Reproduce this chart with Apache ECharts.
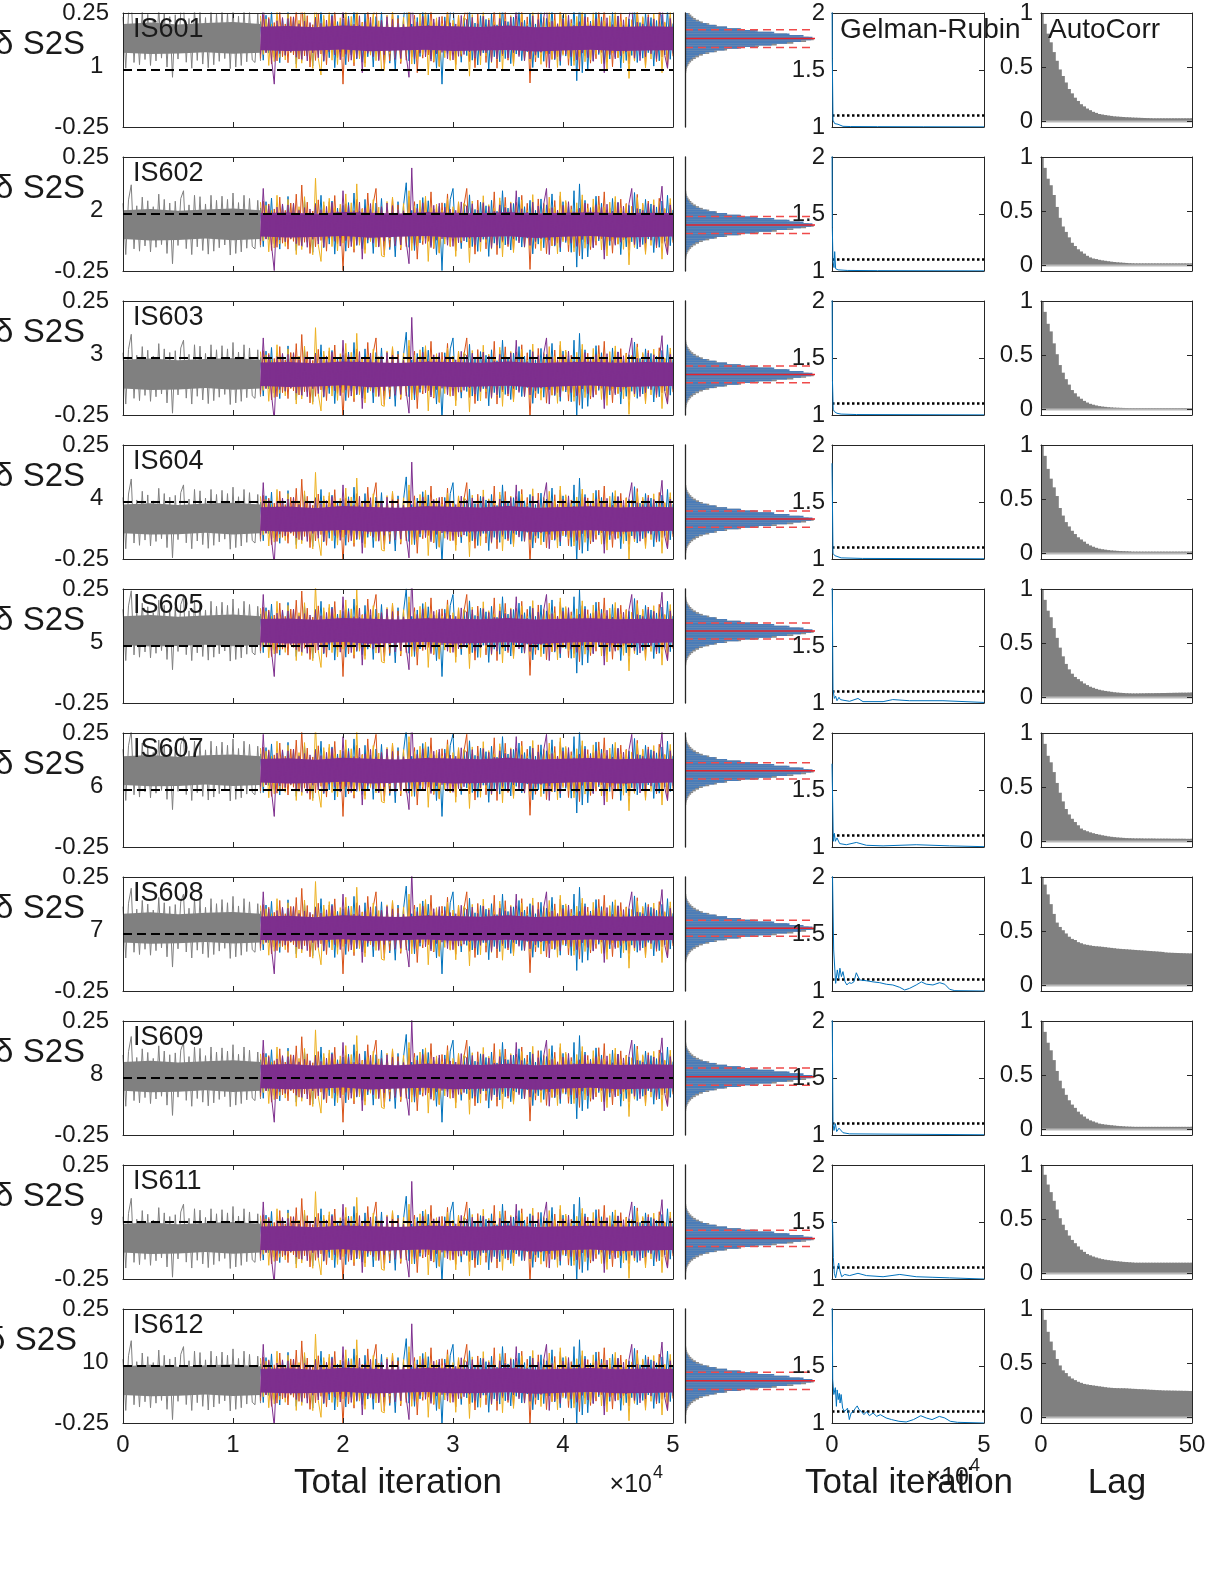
<!DOCTYPE html>
<html><head><meta charset="utf-8">
<script src="https://cdn.jsdelivr.net/npm/echarts@6/dist/echarts.min.js"></script>
<style>html,body{margin:0;padding:0;background:#fff}#c{width:1224px;height:1584px}</style>
</head><body><div id="c"></div>
<script>
// ---------------- DATA ----------------
const stationNames = ['IS601','IS602','IS603','IS604','IS605','IS607','IS608','IS609','IS611','IS612'];
const rowIndexLabels = ['1','2','3','4','5','6','7','8','9','10'];
// posterior mean and std of each δS2S term (red solid / dashed lines)
const rowMeans = [0.138,-0.048,-0.072,-0.075,0.066,0.084,0.025,0.006,-0.072,-0.065];
const rowStd   = [0.039,0.037,0.037,0.036,0.035,0.036,0.035,0.038,0.036,0.038];
const burnInEnd = 12500, totalIter = 50000, sampleStep = 250;
const traceTicks = [0,10000,20000,30000,40000,50000];

// chain deviations from the row mean, in units of 1e-3 (same pattern in every row)
const greyDev = [95,-130,110,176,-105,84,-115,122,-92,106,
 -118,80,-98,135,-86,112,-125,96,-170,104,
 -90,116,150,-104,88,-130,130,-96,124,-112,
 92,-128,130,-115,108,-100,126,-88,112,-132,
 140,-125,98,-118,130,-102,116,-94,-105,108,
 -98];
const blueDev = [75,-95,102,-64,118,-82,58,-106,88,-72,
 125,-60,80,-112,68,-96,110,-76,55,-120,
 94,-70,130,-100,62,-84,105,-128,74,-58,
 86,-115,98,-72,140,-90,60,-104,112,-80,
 70,-125,96,-62,116,-94,78,-108,57,-140,
 102,-71,85,185,-98,64,-112,92,-79,120,
 -60,106,-90,70,-130,82,-200,95,-66,112,
 160,-86,58,-104,90,-75,132,-95,68,-116,
 100,-63,84,-138,108,-80,60,-102,150,-88,
 74,-110,94,-68,122,-97,80,-58,108,-127,
 64,-84,114,-100,88,-67,136,-93,62,-118,
 102,-77,82,-120,150,-185,180,-150,108,-140,
 76,-98,126,-70,95,-110,66,-90,116,-82,
 98,-130,60,-96,86,-74,142,-105,70,-86,
 112,-62,92,-121,79,-98,105,-72,130,-91,
 66];
const orangeDev = [-88,104,-62,92,-112,70,-98,122,-80,64,
 -106,96,-72,135,-90,175,-76,100,-125,61,
 -96,110,-68,86,-115,102,-60,129,-84,74,
 -200,93,-101,63,-120,112,-82,72,-108,140,
 -64,95,160,-92,80,-132,66,-98,117,-74,
 88,-110,60,-95,125,-80,102,-150,70,-86,
 112,-72,145,-104,78,-121,97,-62,136,-93,
 68,-114,100,-78,87,160,-101,74,-128,109,
 -66,92,-105,82,-88,145,-130,106,-76,121,
 -95,64,-112,99,-70,130,-86,95,-195,78,
 -103,114,-63,90,-126,72,-91,107,-80,128,
 -67,98,-117,84,-99,70,-135,111,-75,93,
 -108,80,-89,127,-61,145,-102,73,-124,101,
 -83,113,-66,94,-111,78,-97,134,-74,89,
 -120,105,-60,87,-101,117,-81,69,-130,97,
 -78];
const yellowDev = [100,-70,86,-118,64,-101,130,-83,72,-94,
 112,-63,95,-130,80,-108,124,-75,61,-131,
 205,-86,-160,102,-67,117,-95,76,-114,91,
 -80,136,-62,97,-105,180,-89,70,-125,86,
 -73,111,-97,78,-135,-140,103,-66,122,-85,
 68,-102,94,-76,150,-112,84,-92,108,-71,
 126,-160,75,-99,91,-124,66,-84,115,-96,
 80,-138,102,-69,96,78,-165,105,-81,68,
 -116,128,-77,89,-106,73,-93,119,-140,83,
 -64,101,-121,86,-72,110,-98,63,-103,133,
 -82,76,-113,95,-66,122,-91,79,-127,145,
 -74,107,-87,68,-118,97,-80,132,-102,72,
 -94,114,-69,88,-110,77,-136,100,-64,125,
 -85,74,-107,91,-175,83,-99,120,-71,96,
 -129,81,-90,111,-76,103,-150,73,-96,116,
 -68];
const purpleDev = [-70,160,-62,85,-90,-200,78,-66,92,-74,
 88,-60,95,-82,64,-91,76,-98,70,-63,
 90,-84,67,-96,81,-58,99,-72,61,-93,
 150,-69,87,-95,63,-86,100,-150,74,-65,
 94,-80,60,-97,79,-71,96,-57,85,-92,
 68,-88,62,-76,-170,250,-90,73,-64,97,
 -81,58,-99,86,-67,95,-61,78,-89,69,
 -94,64,-78,101,-70,84,-59,93,-86,66,
 -75,98,-63,81,-102,60,-90,88,-68,77,
 -85,95,-62,150,-79,71,-97,56,-90,100,
 -73,83,-60,92,160,-130,76,-88,65,-99,
 86,-69,102,-80,58,-94,74,-64,96,-84,
 67,-100,87,-62,78,-150,91,-71,61,-89,
 99,-76,82,-58,93,160,-86,72,-97,64,
 -80,94,-67,86,-90,60,170,-74,-130,88,
 -66];
// solid cores of the burn-in (grey) and post burn-in (purple) bands, 1e-3 units
const greyBandIter = [0,2500,5000,7500,10000,12500];
const greyBandHi = [64,70,62,68,72,64];
const greyBandLo = [-62,-68,-66,-60,-67,-62];
const purpleBandIter = [12500,15000,17500,20000,22500,25000,27500,30000,32500,35000,37500,40000,42500,45000,47500,50000];
const purpleBandHi = [52,55,49,57,53,50,56,54,51,57,50,53,56,51,54,52];
const purpleBandLo = [-51,-55,-53,-48,-56,-52,-49,-55,-53,-50,-57,-52,-49,-55,-53,-51];

// histograms (fraction of peak), bins relative to row mean, from low to high
const histBinWidth = 0.0075, histFirstEdge = -0.15;
const histPost = [0.005,0.007,0.008,0.011,0.016,0.022,0.03,0.042,0.058,0.08,0.11,0.16,0.23,0.31,0.42,0.55,0.68,0.80,0.91,0.99,
 1.0,0.93,0.82,0.70,0.57,0.44,0.33,0.24,0.17,0.12,0.085,0.06,0.045,0.032,0.024,0.017,0.012,0.009,0.007,0.005];
const histAll = [0.01,0.012,0.015,0.02,0.027,0.036,0.048,0.064,0.085,0.11,0.14,0.19,0.25,0.33,0.44,0.58,0.72,0.85,0.95,1.01,
 0.97,0.9,0.8,0.68,0.55,0.43,0.33,0.25,0.19,0.14,0.11,0.085,0.065,0.05,0.038,0.028,0.02,0.015,0.012,0.01];

// Gelman-Rubin statistic, [iteration (x1e4), R]
const gelmanRubin = [
 [[0,2.3],[0.01,1.6],[0.033,1.06],[0.088,1.03],[0.143,1.045],[0.197,1.024],[0.252,1.035],[0.36,1.006],[0.6,1.004],[1.5,1.003],[3,1.002],[5,1.001]],
 [[0,2.3],[0.01,1.38],[0.033,1.08],[0.066,1.03],[0.088,1.17],[0.12,1.02],[0.2,1.01],[0.5,1.005],[1.5,1.003],[5,1.001]],
 [[0,2.3],[0.015,1.3],[0.04,1.05],[0.077,1.03],[0.11,1.04],[0.164,1.015],[0.3,1.008],[0.8,1.004],[5,1.001]],
 [[0,1.84],[0.033,1.05],[0.088,1.03],[0.143,1.02],[0.3,1.01],[1,1.005],[5,1.002]],
 [[0,2.3],[0.033,1.12],[0.077,1.04],[0.12,1.06],[0.164,1.02],[0.23,1.05],[0.274,1.03],[0.36,1.025],[0.58,1.015],[0.855,1.04],[1.02,1.012],[1.68,1.012],[2.0,1.03],[2.55,1.02],[3.65,1.02],[5,1.005]],
 [[0,1.73],[0.044,1.05],[0.077,1.12],[0.11,1.05],[0.164,1.08],[0.252,1.03],[0.47,1.02],[0.8,1.04],[1.13,1.015],[1.68,1.01],[2.77,1.02],[3.87,1.01],[5,1.003]],
 [[0,2.3],[0.055,1.36],[0.12,1.067],[0.175,1.185],[0.22,1.11],[0.26,1.2],[0.31,1.126],[0.36,1.17],[0.43,1.08],[0.49,1.053],[0.56,1.073],[0.64,1.067],[0.72,1.08],[0.8,1.16],[0.91,1.097],[1.13,1.09],[1.35,1.08],[1.57,1.073],[1.79,1.059],[2.0,1.053],[2.23,1.032],[2.39,1.009],[2.55,1.023],[2.77,1.053],[2.94,1.08],[3.1,1.06],[3.32,1.053],[3.54,1.073],[3.71,1.059],[3.87,1.015],[4.04,1.003],[5,1.0]],
 [[0,2.3],[0.033,1.1],[0.066,1.04],[0.11,1.1],[0.154,1.03],[0.23,1.06],[0.362,1.02],[0.58,1.01],[5,1.002]],
 [[0,1.52],[0.022,1.47],[0.044,1.19],[0.077,1.05],[0.12,1.01],[0.175,1.09],[0.219,1.14],[0.263,1.07],[0.318,1.02],[0.417,1.04],[0.58,1.03],[0.855,1.05],[1.13,1.03],[1.68,1.02],[2.23,1.04],[2.77,1.02],[3.32,1.015],[3.87,1.01],[5,1.0]],
 [[0,2.3],[0.024,1.38],[0.06,1.25],[0.11,1.31],[0.145,1.146],[0.17,1.29],[0.205,1.205],[0.24,1.26],[0.265,1.175],[0.3,1.25],[0.35,1.13],[0.41,1.10],[0.47,1.088],[0.51,1.13],[0.57,1.03],[0.63,1.088],[0.7,1.10],[0.77,1.13],[0.83,1.15],[0.89,1.117],[0.97,1.10],[1.05,1.073],[1.14,1.10],[1.23,1.064],[1.35,1.088],[1.47,1.058],[1.59,1.073],[1.78,1.044],[1.96,1.03],[2.2,1.015],[2.44,1.009],[2.68,1.03],[2.92,1.064],[3.1,1.044],[3.29,1.03],[3.53,1.058],[3.71,1.044],[3.89,1.015],[4.13,1.006],[5,1.0]]
];
const grThreshold = 1.1;

// autocorrelation, lags 0..50
const acf = [
 [1,.9,.81,.73,.64,.56,.48,.42,.36,.30,.26,.22,.19,.16,.14,.12,.105,.09,.08,.07,.065,.06,.056,.052,.048,.046,.044,.042,.04,.039,.037,.036,.035,.034,.033,.032,.031,.03,.03,.03,.03,.03,.03,.03,.03,.03,.03,.03,.03,.03,.03],
 [1,.9,.8,.74,.65,.54,.44,.36,.31,.26,.21,.18,.15,.13,.11,.09,.075,.065,.06,.053,.048,.044,.04,.036,.033,.03,.028,.026,.024,.022,.021,.02,.02,.02,.02,.02,.02,.02,.02,.02,.02,.02,.02,.02,.02,.02,.02,.02,.02,.02,.02],
 [1,.9,.79,.72,.61,.51,.41,.34,.28,.23,.18,.15,.12,.10,.08,.065,.053,.045,.038,.032,.028,.025,.022,.02,.018,.017,.016,.015,.014,.013,.013,.013,.013,.013,.013,.013,.013,.013,.013,.013,.013,.013,.013,.013,.013,.013,.013,.013,.013,.013,.013],
 [1,.9,.78,.69,.61,.53,.42,.35,.29,.25,.21,.18,.15,.13,.11,.09,.075,.063,.053,.045,.04,.036,.032,.029,.027,.025,.023,.022,.021,.02,.018,.018,.018,.018,.018,.018,.018,.018,.018,.018,.018,.018,.018,.018,.018,.018,.018,.018,.018,.018,.018],
 [1,.9,.8,.74,.64,.55,.46,.38,.31,.26,.22,.19,.17,.15,.13,.115,.10,.09,.08,.072,.066,.061,.057,.053,.049,.046,.044,.042,.04,.039,.038,.038,.038,.039,.039,.04,.04,.04,.041,.041,.042,.042,.043,.043,.044,.044,.045,.045,.045,.046,.046],
 [1,.9,.79,.73,.64,.54,.45,.37,.30,.25,.21,.18,.15,.12,.105,.095,.085,.077,.07,.064,.058,.053,.048,.044,.041,.038,.036,.034,.032,.031,.03,.029,.029,.029,.028,.028,.028,.028,.027,.027,.027,.027,.027,.026,.026,.026,.026,.026,.025,.025,.025],
 [1,.93,.84,.75,.66,.58,.54,.51,.48,.45,.43,.42,.40,.39,.38,.375,.37,.365,.362,.36,.357,.354,.35,.347,.344,.34,.338,.336,.334,.332,.33,.328,.326,.324,.322,.32,.318,.316,.314,.312,.31,.305,.303,.302,.301,.30,.299,.298,.297,.296,.295],
 [1,.9,.8,.73,.64,.54,.45,.38,.32,.27,.23,.2,.165,.14,.12,.1,.085,.075,.065,.055,.05,.046,.043,.04,.037,.034,.032,.03,.028,.027,.026,.025,.025,.025,.025,.025,.025,.025,.025,.025,.025,.025,.025,.025,.025,.025,.025,.025,.025,.025,.025],
 [1,.91,.82,.75,.67,.59,.51,.45,.4,.35,.31,.28,.25,.22,.2,.18,.168,.157,.148,.14,.133,.128,.124,.12,.117,.114,.111,.108,.106,.104,.102,.1,.1,.1,.1,.1,.1,.1,.1,.1,.1,.1,.1,.1,.1,.1,.1,.1,.1,.1,.1],
 [1,.9,.79,.7,.62,.54,.48,.435,.41,.38,.36,.345,.33,.32,.31,.305,.3,.296,.292,.288,.284,.28,.276,.274,.272,.271,.27,.27,.269,.267,.265,.264,.262,.261,.26,.258,.256,.255,.253,.252,.25,.249,.249,.248,.248,.247,.247,.246,.246,.245,.245]
];

// ---------------- LAYOUT / STYLE ----------------
const FONT = '"Liberation Sans", Arial, Helvetica, sans-serif';
const AX = '#262626', TXT = '#1a1a1a';
const C = {blue:'#0072BD', orange:'#D95319', yellow:'#EDB120', purple:'#7E2F8E', grey:'#808080'};
const ROW_TOP0 = 13, ROW_STEP = 144, ROW_H = 114;
const COLS = {trace:[123,550], hist:[685,130], gr:[832,152], ac:[1041,151]};

const grids = [], xAxes = [], yAxes = [], series = [], graphics = [];

function axis(grid, position, min, max, o) {
  const a = {type:'value', gridIndex:grid, position, min, max, z:6,
    axisLine:{show:true, onZero:false, lineStyle:{color:AX, width:1}},
    axisTick:{show:false}, axisLabel:{show:false}, splitLine:{show:false}, splitArea:{show:false}};
  return Object.assign(a, o || {});
}
function ticks(vals) { return {show:true, inside:true, length:5, lineStyle:{color:AX, width:1}, customValues:vals}; }
function labels(vals, margin, fmt) {
  return {show:true, customValues:vals, margin, fontSize:24, fontFamily:FONT, color:TXT, formatter:fmt || (v => String(v))};
}
function txt(x, y, text, size, align, vAlign, z) {
  graphics.push({type:'text', x, y, z: z || 50, silent:true,
    style:{text, fontSize:size, fontFamily:FONT, fill:TXT, align, textAlign:align, verticalAlign:vAlign||'middle', textVerticalAlign:vAlign||'middle'}});
}

for (let r = 0; r < 10; r++) {
  const top = ROW_TOP0 + ROW_STEP * r;
  const last = r === 9;
  const g0 = grids.length;
  for (const k of ['trace','hist','gr','ac']) grids.push({left:COLS[k][0], width:COLS[k][1], top, height:ROW_H, containLabel:false});
  const xb = 7 * r, yb = 7 * r;
  // x axes
  xAxes.push(axis(g0, 'bottom', 0, totalIter, {axisTick:ticks([10000,20000,30000,40000]),
    axisLabel: last ? labels(traceTicks, 10, v => String(v / 10000)) : {show:false}}));
  xAxes.push(axis(g0, 'top', 0, totalIter, {axisTick:ticks([10000,20000,30000,40000])}));
  xAxes.push(axis(g0 + 1, 'bottom', 0, 1.02, {axisLine:{show:false}}));
  xAxes.push(axis(g0 + 2, 'bottom', 0, 5, {axisLabel: last ? labels([0,5], 10) : {show:false}}));
  xAxes.push(axis(g0 + 2, 'top', 0, 5));
  xAxes.push(axis(g0 + 3, 'bottom', 0, 50, {axisLabel: last ? labels([0,50], 10) : {show:false}}));
  xAxes.push(axis(g0 + 3, 'top', 0, 50));
  // y axes
  yAxes.push(axis(g0, 'left', -0.25, 0.25, {axisLabel:labels([-0.25,0.25], 14)}));
  yAxes.push(axis(g0, 'right', -0.25, 0.25));
  yAxes.push(axis(g0 + 1, 'left', -0.25, 0.25, {axisLine:{show:true, onZero:false, lineStyle:{color:AX, width:1.3}}}));
  yAxes.push(axis(g0 + 2, 'left', 1, 2, {z:12, axisTick:ticks([1.5]), axisLabel:labels([1,1.5,2], 7)}));
  yAxes.push(axis(g0 + 2, 'right', 1, 2, {axisTick:ticks([1.5])}));
  yAxes.push(axis(g0 + 3, 'left', -0.05, 1, {z:12, axisTick:ticks([0,0.5]), axisLabel:labels([0,0.5,1], 8)}));
  yAxes.push(axis(g0 + 3, 'right', -0.05, 1, {axisTick:ticks([0,0.5])}));

  const m = rowMeans[r], s = rowStd[r];
  const tr = {xAxisIndex:xb, yAxisIndex:yb};
  const band = (iters, hi, lo, color, z) => Object.assign({type:'custom', z, silent:true, clip:true,
    data:[[iters[0], m]],
    renderItem(params, api) {
      const pts = [];
      for (let k = 0; k < iters.length; k++) pts.push(api.coord([iters[k], m + hi[k] / 1000]));
      for (let k = iters.length - 1; k >= 0; k--) pts.push(api.coord([iters[k], m + lo[k] / 1000]));
      return {type:'polygon', shape:{points:pts}, style:{fill:color}};
    }}, tr);
  const chain = (dev, start, color, z) => Object.assign({type:'line', z, silent:true, clip:true,
    symbol:'none', showSymbol:false, animation:false,
    data: dev.map((d, i) => [start + sampleStep * i, m + d / 1000]),
    lineStyle:{color, width:1}}, tr);

  series.push(band(greyBandIter, greyBandHi, greyBandLo, C.grey, 2));
  series.push(chain(greyDev, 0, C.grey, 2));
  series.push(chain(blueDev, burnInEnd, C.blue, 3));
  series.push(chain(orangeDev, burnInEnd, C.orange, 3));
  series.push(chain(yellowDev, burnInEnd, C.yellow, 3));
  series.push(band(purpleBandIter, purpleBandHi, purpleBandLo, C.purple, 4));
  series.push(chain(purpleDev, burnInEnd, C.purple, 4));
  series.push(Object.assign({type:'line', z:8, silent:true, symbol:'none', data:[[0,0],[totalIter,0]],
    lineStyle:{color:'#000', width:2, type:[9,5]}}, tr));

  // histogram
  const hs = {xAxisIndex:xb + 2, yAxisIndex:yb + 2};
  const hist = (counts, color, z) => {
    const data = counts.map((c, k) => [c, m + histFirstEdge + k * histBinWidth, m + histFirstEdge + (k + 1) * histBinWidth])
      .filter(d => d[2] > -0.25 && d[1] < 0.25);
    return Object.assign({type:'custom', z, silent:true, clip:true, data, encode:{x:0, y:[1,2]},
      renderItem(params, api) {
        const p0 = api.coord([0, api.value(2)]);
        const p1 = api.coord([api.value(0), api.value(1)]);
        return {type:'rect', shape:{x:p0[0], y:p0[1], width:p1[0] - p0[0], height:p1[1] - p0[1]}, style:{fill:color}};
      }}, hs);
  };
  series.push(hist(histAll, '#8a8a8a', 1));
  series.push(hist(histPost, '#4a7cb8', 1));
  series.push(Object.assign({type:'line', z:3, silent:true, symbol:'none', data:[[0,m],[1.02,m]], lineStyle:{color:'#e8232b', width:1.5}}, hs));
  for (const d of [m + s, m - s])
    series.push(Object.assign({type:'line', z:3, silent:true, symbol:'none', clip:true, data:[[0,d],[1.02,d]], lineStyle:{color:'#ef4a4a', width:1.5, type:[8,5]}}, hs));

  // Gelman-Rubin
  const gs = {xAxisIndex:xb + 3, yAxisIndex:yb + 3};
  series.push(Object.assign({type:'line', z:13, silent:true, symbol:'none', clip:true, data:gelmanRubin[r], lineStyle:{color:C.blue, width:1}}, gs));
  series.push(Object.assign({type:'line', z:4, silent:true, symbol:'none', data:[[0,grThreshold],[5,grThreshold]], lineStyle:{color:'#000', width:2.5, type:[2.5,2.5]}}, gs));

  // autocorrelation
  const as = {xAxisIndex:xb + 5, yAxisIndex:yb + 5};
  series.push(Object.assign({type:'custom', z:2, silent:true, clip:true, data:acf[r].map((v, lag) => [lag, v]),
    renderItem(params, api) {
      const p0 = api.coord([api.value(0) - 0.5, api.value(1)]);
      const p1 = api.coord([api.value(0) + 0.5, 0]);
      return {type:'rect', shape:{x:p0[0], y:p0[1], width:p1[0] - p0[0] + 1.2, height:p1[1] - p0[1]}, style:{fill:'#808080'}};
    }}, as));
  series.push(Object.assign({type:'line', z:3, silent:true, symbol:'none', data:[[0,0],[50,0]], lineStyle:{color:'#b9b9b9', width:2}}, as));

  // texts
  txt(133, top + 17, stationNames[r], 27, 'left');
  const yc = top + ROW_H / 2;
  const mainRight = last ? 77 : 85;
  txt(mainRight, yc - 25, 'δ S2S', 33, 'right');
  txt(mainRight + 5, yc - 4, rowIndexLabels[r], 24, 'left');
}

txt(840, 30, 'Gelman-Rubin', 28, 'left', 'middle', 60);
txt(1048, 30, 'AutoCorr', 28, 'left', 'middle', 60);
txt(652, 1485, '×10', 25, 'right');
txt(653, 1473, '4', 18, 'left');
txt(969, 1478, '×10', 25, 'right', 'middle', 40);
txt(970, 1466, '4', 18, 'left', 'middle', 40);
txt(398, 1483, 'Total iteration', 35, 'center', 'middle', 60);
txt(909, 1483, 'Total iteration', 35, 'center', 'middle', 60);
txt(1117, 1483, 'Lag', 35, 'center', 'middle', 60);

const chart = echarts.init(document.getElementById('c'), null, {renderer:'canvas', width:1224, height:1584});
chart.setOption({backgroundColor:'#fff', animation:false, grid:grids, xAxis:xAxes, yAxis:yAxes, series, graphic:{elements:graphics}});
</script></body></html>
